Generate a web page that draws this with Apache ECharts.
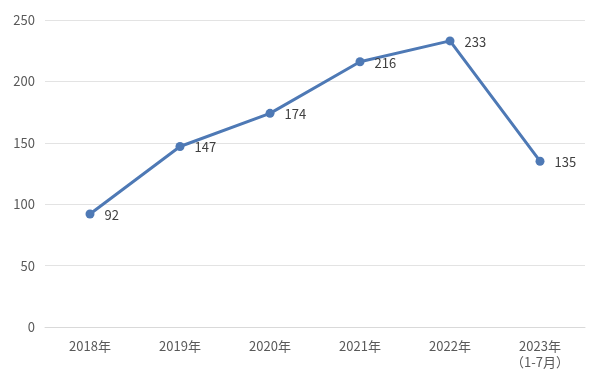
<!DOCTYPE html>
<html><head><meta charset="utf-8">
<script src="https://cdn.jsdelivr.net/npm/echarts@6/dist/echarts.min.js"></script>
<style>html,body{margin:0;padding:0;background:#fff}#c{width:600px;height:375px}</style>
</head><body><div id="c"></div>
<script>
const categories = ['2018年','2019年','2020年','2021年','2022年','2023年\n（1-7月）'];
const values = [92,147,174,216,233,135];
const yTicks = [0,50,100,150,200,250];

const chart = echarts.init(document.getElementById('c'));
chart.setOption({
  animation:false,
  grid:{left:45,right:15,top:20,bottom:48},
  xAxis:{type:'category',data:categories,boundaryGap:true,
    axisLine:{lineStyle:{color:'#d9d9d9',width:1}},axisTick:{show:false},
    axisLabel:{color:'#595959',fontSize:13,margin:11,lineHeight:16,fontFamily:'Noto Sans CJK SC'}},
  yAxis:{type:'value',min:yTicks[0],max:yTicks[yTicks.length-1],interval:50,
    axisLine:{show:false},axisTick:{show:false},
    splitLine:{lineStyle:{color:'#e3e3e3',width:1}},
    axisLabel:{color:'#595959',fontSize:13,margin:10,fontFamily:'Noto Sans CJK SC'}},
  series:[{type:'line',data:values,symbol:'circle',symbolSize:9,
    lineStyle:{color:'#4E79B5',width:3},itemStyle:{color:'#4E79B5'},
    label:{show:true,position:'right',distance:10,color:'#404040',fontSize:13,fontFamily:'Noto Sans CJK SC',offset:[0,1]}}]
});
</script></body></html>
